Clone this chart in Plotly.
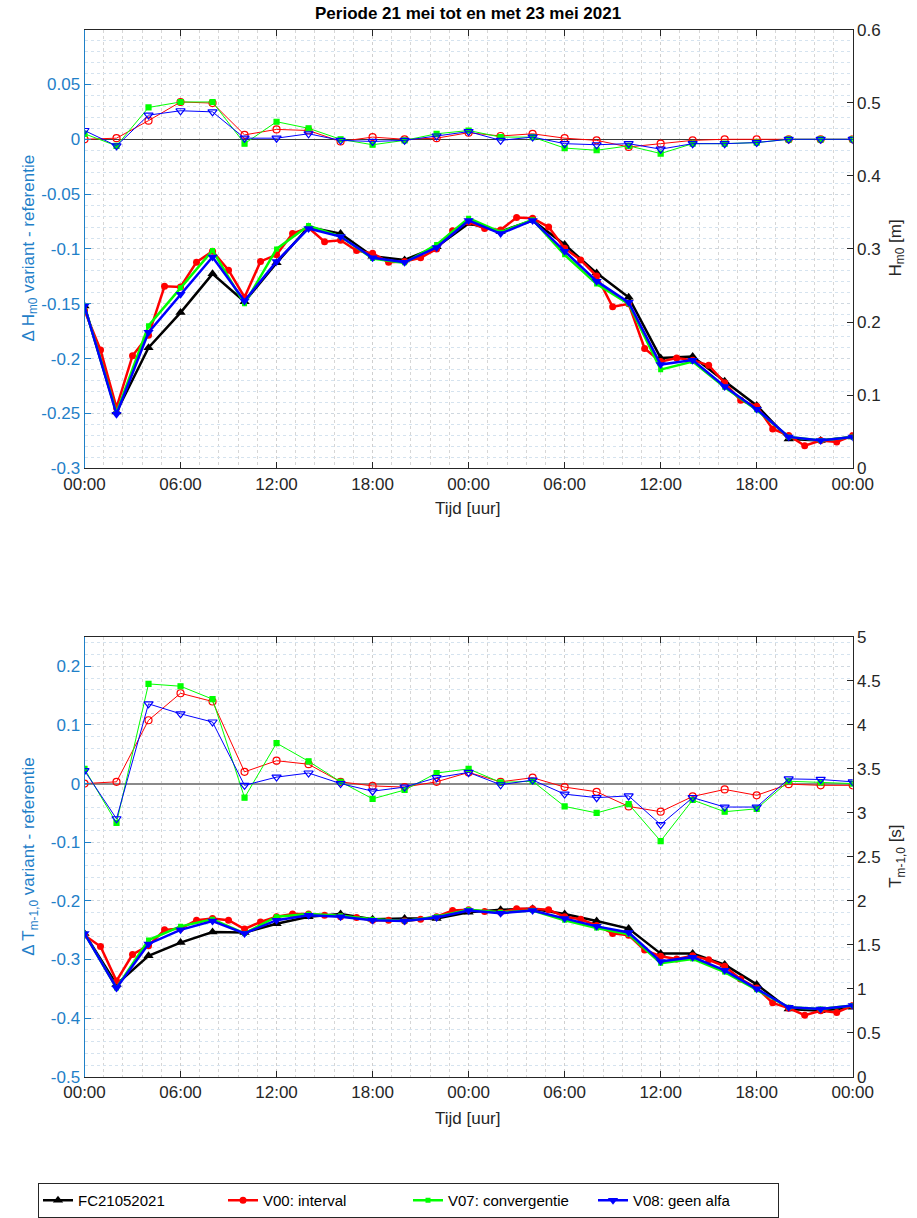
import pandas as pd
import plotly.graph_objects as go
from plotly.subplots import make_subplots

# ---------------- data ----------------
START = "2021-05-21 00:00"
HOURS_2H = [0, 2, 4, 6, 8, 10, 12, 14, 16, 18, 20, 22, 24, 26, 28, 30, 32, 34, 36, 38, 40, 42, 44, 46, 48]
HOURS_1H = list(range(0, 49))

# Hm0 [m] (right axis, top)
FC_H = [0.222, 0.077, 0.165, 0.213, 0.266, 0.228, 0.281, 0.330, 0.321, 0.290, 0.285, 0.303, 0.335,
        0.324, 0.339, 0.306, 0.267, 0.234, 0.151, 0.153, 0.119, 0.086, 0.040, 0.038, 0.043]
V00_H = [0.216, 0.162, 0.083, 0.154, 0.182, 0.249, 0.248, 0.282, 0.297, 0.271, 0.234, 0.283, 0.292,
         0.321, 0.329, 0.310, 0.312, 0.298, 0.294, 0.282, 0.283, 0.288, 0.300, 0.325, 0.337, 0.328,
         0.326, 0.343, 0.342, 0.330, 0.301, 0.285, 0.263, 0.221, 0.225, 0.164, 0.146, 0.151, 0.148,
         0.141, 0.117, 0.093, 0.085, 0.054, 0.045, 0.031, 0.038, 0.036, 0.045]
V07_H = [0.222, 0.076, 0.195, 0.247, 0.298, 0.225, 0.300, 0.332, 0.317, 0.287, 0.281, 0.306, 0.342,
         0.323, 0.340, 0.292, 0.252, 0.225, 0.135, 0.146, 0.111, 0.080, 0.043, 0.038, 0.043]
V08_H = [0.222, 0.074, 0.186, 0.238, 0.289, 0.229, 0.283, 0.328, 0.317, 0.288, 0.282, 0.302, 0.339,
         0.321, 0.339, 0.297, 0.256, 0.227, 0.142, 0.148, 0.112, 0.081, 0.043, 0.038, 0.043]

# Delta Hm0 (left axis, top)
V00_dH = [0.000, 0.001, 0.017, 0.034, 0.033, 0.004, 0.009, 0.008, -0.002, 0.002, 0.000, 0.001, 0.006,
          0.003, 0.005, 0.001, -0.001, -0.007, -0.004, -0.001, 0.000, 0.000, 0.000, 0.000, 0.000]
V07_dH = [0.005, -0.006, 0.029, 0.034, 0.034, -0.004, 0.016, 0.010, 0.000, -0.005, -0.001, 0.005, 0.008,
          0.002, 0.002, -0.008, -0.010, -0.006, -0.013, -0.004, -0.004, -0.003, 0.000, 0.000, 0.000]
V08_dH = [0.008, -0.006, 0.022, 0.026, 0.025, 0.001, 0.001, 0.005, -0.001, -0.002, -0.001, 0.003, 0.007,
          -0.001, 0.002, -0.004, -0.005, -0.004, -0.009, -0.004, -0.004, -0.003, 0.000, 0.000, 0.000]

# Tm-1,0 [s] (right axis, bottom)
FC_T = [1.63, 1.05, 1.375, 1.525, 1.645, 1.64, 1.74, 1.82, 1.85, 1.79, 1.80, 1.80, 1.87,
        1.90, 1.91, 1.85, 1.77, 1.685, 1.40, 1.40, 1.275, 1.05, 0.77, 0.75, 0.79]
V00_T = [1.61, 1.48, 1.09, 1.39, 1.49, 1.67, 1.685, 1.78, 1.80, 1.78,
         1.68, 1.76, 1.82, 1.85, 1.85, 1.835, 1.82, 1.81, 1.78, 1.78,
         1.77, 1.79, 1.82, 1.89, 1.90, 1.88, 1.87, 1.91, 1.91, 1.90,
         1.82, 1.79, 1.72, 1.63, 1.61, 1.44, 1.37, 1.34, 1.375, 1.33,
         1.255, 1.11, 1.01, 0.84, 0.78, 0.70, 0.75, 0.73, 0.81]
V07_T = [1.63, 1.01, 1.555, 1.71, 1.79, 1.63, 1.82, 1.85, 1.83, 1.79, 1.77, 1.82, 1.90,
         1.87, 1.89, 1.78, 1.69, 1.62, 1.29, 1.34, 1.19, 0.99, 0.79, 0.77, 0.81]
V08_T = [1.63, 1.01, 1.51, 1.67, 1.77, 1.63, 1.78, 1.835, 1.82, 1.78, 1.77, 1.81, 1.89,
         1.86, 1.89, 1.80, 1.71, 1.64, 1.31, 1.36, 1.21, 1.00, 0.79, 0.77, 0.81]

# Delta Tm-1,0 (left axis, bottom)
V00_dT = [0.000, 0.003, 0.108, 0.154, 0.140, 0.020, 0.039, 0.033, 0.003, -0.004, -0.006, 0.003, 0.019,
          0.003, 0.010, -0.006, -0.014, -0.039, -0.048, -0.022, -0.010, -0.020, -0.001, -0.003, -0.003]
V07_dT = [0.025, -0.067, 0.170, 0.166, 0.144, -0.024, 0.069, 0.038, 0.003, -0.026, -0.011, 0.018, 0.025,
          0.002, 0.004, -0.039, -0.050, -0.035, -0.098, -0.028, -0.048, -0.043, 0.004, 0.002, 0.000]
V08_dT = [0.022, -0.060, 0.136, 0.119, 0.105, -0.003, 0.011, 0.018, 0.000, -0.013, -0.006, 0.010, 0.019,
          -0.002, 0.006, -0.018, -0.024, -0.021, -0.070, -0.024, -0.040, -0.040, 0.008, 0.007, 0.003]

X_TICK_HOURS = [0, 6, 12, 18, 24, 30, 36, 42, 48]
X_TICK_TEXT = ["00:00", "06:00", "12:00", "18:00", "00:00", "06:00", "12:00", "18:00", "00:00"]
TOP_L_TICKS = [-0.3, -0.25, -0.2, -0.15, -0.1, -0.05, 0, 0.05]
TOP_L_TEXT = ["-0.3", "-0.25", "-0.2", "-0.15", "-0.1", "-0.05", "0", "0.05"]
BOT_L_TICKS = [-0.5, -0.4, -0.3, -0.2, -0.1, 0, 0.1, 0.2]
BOT_L_TEXT = ["-0.5", "-0.4", "-0.3", "-0.2", "-0.1", "0", "0.1", "0.2"]

NAMES = ["FC21052021", "V00: interval", "V07: convergentie", "V08: geen alfa"]
TITLE = "Periode 21 mei tot en met 23 mei 2021"

# ---------------- helpers ----------------
W, H = 917, 1218
base = pd.Timestamp(START)
def ts(hours):
    return [base + pd.Timedelta(hours=h) for h in hours]
t2 = ts(HOURS_2H)
t1 = ts(HOURS_1H)
def fx(px):
    return px / W
def fy(py):
    return 1 - py / H

BLUE_AX = "#1f80c8"
DARK = "#262626"
FONT = "Liberation Sans, Arial, sans-serif"

fig = make_subplots(rows=2, cols=1, specs=[[{"secondary_y": True}], [{"secondary_y": True}]])

def thick(x, y, name, color, symbol, size, row, show):
    fig.add_trace(go.Scatter(x=x, y=y, name=name, mode="lines+markers",
                             line=dict(color=color, width=2.5),
                             marker=dict(symbol=symbol, size=size, color=color),
                             showlegend=show, legendgroup=name),
                  row=row, col=1, secondary_y=True)

def thin(x, y, name, color, symbol, size, row):
    fig.add_trace(go.Scatter(x=x, y=y, name=name, mode="lines+markers",
                             line=dict(color=color, width=1),
                             marker=dict(symbol=symbol, size=size, color=color,
                                         line=dict(color=color, width=1.2)),
                             showlegend=False, legendgroup=name),
                  row=row, col=1, secondary_y=False)

# top panel
thin(t2, V00_dH, NAMES[1], "#ff0000", "circle-open", 7, 1)
thin(t2, V07_dH, NAMES[2], "#00ff00", "square", 5, 1)
thin(t2, V08_dH, NAMES[3], "#0000ff", "triangle-down-open", 8, 1)
thick(t2, FC_H, NAMES[0], "#000000", "triangle-up", 9, 1, True)
thick(t1, V00_H, NAMES[1], "#ff0000", "circle", 7, 1, True)
thick(t2, V07_H, NAMES[2], "#00ff00", "square", 5, 1, True)
thick(t2, V08_H, NAMES[3], "#0000ff", "triangle-down", 9, 1, True)

# bottom panel
thin(t2, V00_dT, NAMES[1], "#ff0000", "circle-open", 7, 2)
thin(t2, V07_dT, NAMES[2], "#00ff00", "square", 5, 2)
thin(t2, V08_dT, NAMES[3], "#0000ff", "triangle-down-open", 8, 2)
thick(t2, FC_T, NAMES[0], "#000000", "triangle-up", 9, 2, False)
thick(t1, V00_T, NAMES[1], "#ff0000", "circle", 7, 2, False)
thick(t2, V07_T, NAMES[2], "#00ff00", "square", 5, 2, False)
thick(t2, V08_T, NAMES[3], "#0000ff", "triangle-down", 9, 2, False)

xdom = [fx(84.5), fx(852.7)]
top_dom = [fy(475), fy(30)]
bot_dom = [fy(1092), fy(646)]
tick_font = dict(family=FONT, size=17, color=DARK)

xcommon = dict(domain=xdom, range=[base, base + pd.Timedelta(hours=48)],
               tickvals=ts(X_TICK_HOURS), ticktext=X_TICK_TEXT,
               ticks="inside", ticklen=6, tickcolor=DARK, showline=True, linecolor=DARK,
               linewidth=1, mirror="ticks", tickfont=tick_font,
               showgrid=True, gridcolor="#cfcfcf", griddash="dot", gridwidth=1,
               minor=dict(dtick=4320000, tick0=base, showgrid=True, gridcolor="#d6d6d6",
                          griddash="dot", gridwidth=1, ticks=""),
               automargin=False)

left_common = dict(ticks="inside", ticklen=6, tickcolor=BLUE_AX, showline=True, linecolor=BLUE_AX,
                   linewidth=1, tickfont=dict(family=FONT, size=17, color=BLUE_AX),
                   showgrid=True, gridcolor="#cfd8e0", griddash="dot", gridwidth=1,
                   zeroline=True, automargin=False)
right_common = dict(ticks="inside", ticklen=6, tickcolor=DARK, showline=True, linecolor=DARK,
                    linewidth=1, tickfont=tick_font, showgrid=False, zeroline=False, automargin=False)

fig.update_layout(
    width=W, height=H, margin=dict(l=0, r=0, t=0, b=0),
    paper_bgcolor="white", plot_bgcolor="white",
    font=dict(family=FONT, size=17, color=DARK),
    xaxis=dict(**xcommon, anchor="y"),
    xaxis2=dict(**xcommon, anchor="y3"),
    yaxis=dict(**left_common, domain=top_dom, range=[-0.3, 0.1], tickvals=TOP_L_TICKS,
               ticktext=TOP_L_TEXT, zerolinecolor="#3a3a3a", zerolinewidth=1,
               minor=dict(dtick=0.01, showgrid=True, gridcolor="#d5e3ef", griddash="dot", ticks="")),
    yaxis2=dict(**right_common, range=[0, 0.6], dtick=0.1, tick0=0, anchor="x", overlaying="y", side="right"),
    yaxis3=dict(**left_common, domain=bot_dom, range=[-0.5, 0.25], tickvals=BOT_L_TICKS,
                ticktext=BOT_L_TEXT, zerolinecolor="#8a8a8a", zerolinewidth=1.5,
                minor=dict(dtick=0.02, showgrid=True, gridcolor="#d5e3ef", griddash="dot", ticks="")),
    yaxis4=dict(**right_common, range=[0, 5], dtick=0.5, tick0=0, anchor="x2", overlaying="y3", side="right"),
    legend=dict(orientation="h", x=fx(38), y=fy(1200), xanchor="left", yanchor="top",
                bordercolor=DARK, borderwidth=1, bgcolor="white",
                font=dict(family=FONT, size=15, color="#000000"),
                entrywidth=140, entrywidthmode="pixels", tracegroupgap=0),
    showlegend=True,
)

ann = []
ann.append(dict(text="<b>" + TITLE + "</b>", x=fx(468), y=fy(14), font=dict(size=17, color="#000000")))
ann.append(dict(text="Tijd [uur]", x=fx(468), y=fy(516), font=dict(size=17, color=DARK)))
ann.append(dict(text="Tijd [uur]", x=fx(468), y=fy(1134), font=dict(size=17, color=DARK)))
ann.append(dict(text="Δ H<sub>m0</sub> variant - referentie", x=fx(30), y=fy(252), textangle=-90,
                font=dict(size=17, color=BLUE_AX)))
ann.append(dict(text="Δ T<sub>m-1,0</sub> variant - referentie", x=fx(30), y=fy(869), textangle=-90,
                font=dict(size=17, color=BLUE_AX)))
ann.append(dict(text="H<sub>m0</sub> [m]", x=fx(897), y=fy(252), textangle=-90,
                font=dict(size=17, color=DARK)))
ann.append(dict(text="T<sub>m-1,0</sub> [s]", x=fx(897), y=fy(869), textangle=-90,
                font=dict(size=17, color=DARK)))
for a in ann:
    a.update(xref="paper", yref="paper", showarrow=False, xanchor="center", yanchor="middle",
             font=dict(family=FONT, **a["font"]))
fig.update_layout(annotations=ann)

fig.write_html("out.html")
